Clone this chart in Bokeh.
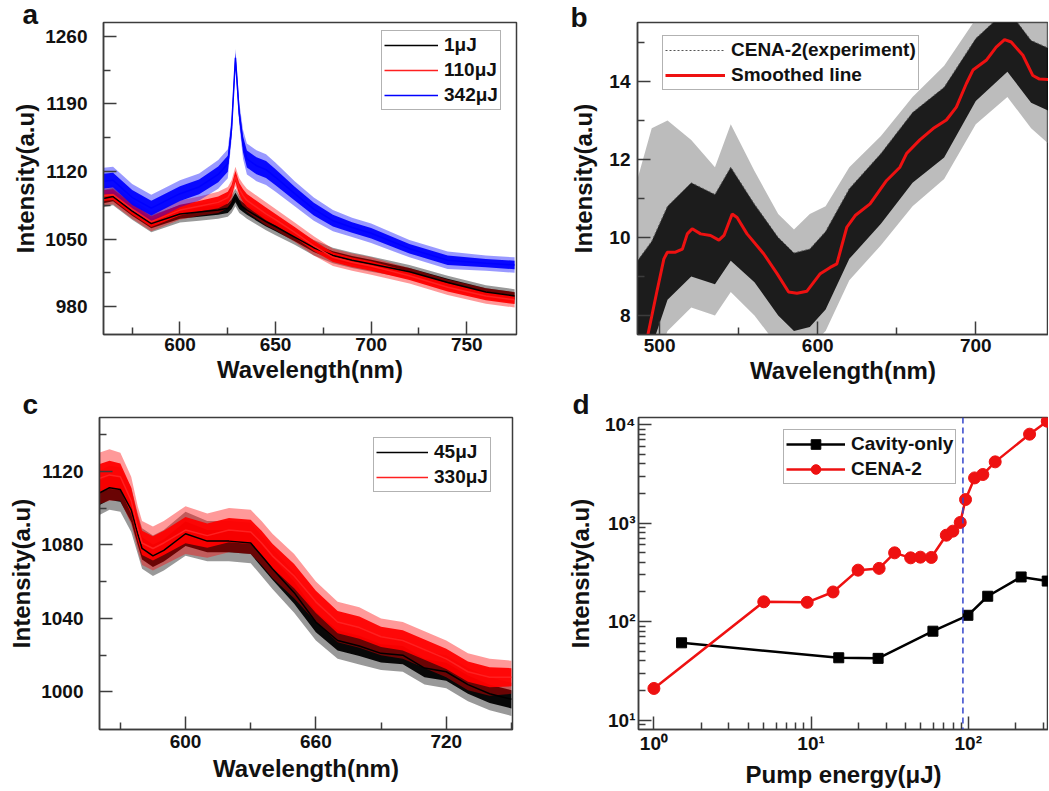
import numpy as np
from bokeh.plotting import figure
from bokeh.models import FixedTicker, Legend, LegendItem, Span
from bokeh.layouts import row, column
from bokeh.embed import file_html
from bokeh.resources import INLINE

# ---------------- data ----------------
# panel a
a_wl = [560, 565, 575, 585, 600, 610, 620, 625, 627, 629, 631, 633, 635, 640, 645,
        650, 660, 670, 680, 690, 700, 720, 740, 760, 775]
a_1uJ = [1092, 1094, 1079, 1066, 1076, 1078, 1080, 1082, 1086, 1093, 1086, 1083, 1080,
         1074, 1068, 1063, 1052, 1041, 1033, 1028, 1024, 1016, 1005, 995, 991]
a_1uJ_noise = [9, 9, 9, 9, 9, 9, 9, 9, 9, 9, 9, 9, 9, 9, 9, 9, 8, 8, 8, 8, 8, 7, 7, 7, 7]
a_110uJ = [1095, 1096, 1081, 1068, 1080, 1084, 1088, 1093, 1100, 1115, 1102, 1095, 1090,
           1083, 1076, 1070, 1057, 1043, 1031, 1026, 1022, 1012, 1000, 991, 987]
a_110uJ_noise = [10, 10, 10, 10, 10, 10, 11, 11, 11, 10, 11, 12, 12, 12, 12, 11, 10, 10,
                 9, 9, 9, 8, 8, 8, 8]
a_342uJ = [1110, 1111, 1093, 1082, 1097, 1104, 1117, 1128, 1165, 1238, 1180, 1148, 1133,
           1126, 1122, 1114, 1097, 1081, 1069, 1062, 1056, 1040, 1028, 1025, 1023]
a_342uJ_noise = [14, 14, 14, 14, 14, 14, 15, 15, 12, 9, 12, 15, 16, 16, 16, 15, 13, 12,
                 11, 10, 10, 9, 9, 8, 8]

# panel b
b_wl_smooth = [490, 492.6, 498, 502.7, 504.9, 510, 514.4, 517.5, 520.6, 525.9, 532.2, 537.5,
               540.7, 545.9, 549, 555.3, 565.8, 574.3, 581.6, 586.9, 593.2, 601.6, 607.9,
               612.1, 618.4, 623.7, 633.1, 643.6, 652, 656.2, 664.6, 673, 681.4, 687.7,
               694, 698.2, 706.6, 712.9, 718.2, 722.4, 729.8, 736.1, 740.3, 746]
b_smooth = [6.9, 7.51, 8.56, 9.45, 9.62, 9.62, 9.7, 10.09, 10.22, 10.09, 10.05, 9.93,
            10.05, 10.6, 10.51, 10.09, 9.58, 9.07, 8.6, 8.57, 8.62, 9.07, 9.23, 9.32,
            10.26, 10.56, 10.86, 11.46, 11.8, 12.15, 12.5, 12.79, 13.01, 13.34, 13.94,
            14.29, 14.54, 14.88, 15.07, 15.01, 14.67, 14.15, 14.06, 14.05]
b_wl_exp = [486, 495, 505, 520, 535, 545, 560, 575, 585, 595, 605, 620, 640, 660, 680,
            700, 720, 735, 746]
b_exp_core_lo = [6.8, 7.2, 8.4, 9.0, 8.8, 9.4, 8.85, 8.0, 7.6, 7.7, 8.15, 9.45, 10.35,
                 11.4, 12.05, 13.5, 14.25, 13.45, 13.25]
b_exp_core_hi = [9.4, 9.9, 10.8, 11.4, 11.1, 11.8, 10.85, 10.0, 9.6, 9.7, 10.15, 11.25,
                 12.15, 13.2, 13.85, 15.1, 15.85, 15.05, 14.85]
b_exp_spike_lo = [6.0, 6.5, 7.6, 8.2, 8.0, 8.6, 8.0, 7.2, 7.0, 7.2, 7.6, 8.9, 9.8, 10.8,
                  11.5, 12.9, 13.6, 12.8, 12.4]
b_exp_spike_hi = [11.5, 12.8, 13.0, 12.5, 11.8, 12.9, 11.7, 10.6, 10.2, 10.6, 10.8, 11.8,
                  12.6, 13.6, 14.4, 15.6, 16.0, 16.0, 16.0]

# panel c
c_wl = [560, 565, 570, 575, 578, 580, 585, 590, 600, 610, 620, 630, 635, 640, 650, 660,
        670, 680, 690, 700, 710, 720, 730, 740, 750]
c_45uJ = [1108, 1111, 1110, 1099, 1086, 1078, 1074, 1077, 1086, 1082, 1082, 1081, 1074,
          1067, 1054, 1038, 1028, 1025, 1021, 1020, 1013, 1011, 1004, 999, 996]
c_45uJ_noise = [12, 12, 12, 12, 11, 11, 11, 11, 12, 11, 11, 11, 11, 11, 11, 10, 10, 10,
                9, 9, 9, 9, 9, 9, 9]
c_330uJ = [1116, 1118, 1117, 1104, 1089, 1081, 1078, 1081, 1088, 1085, 1088, 1087, 1081,
           1074, 1063, 1049, 1038, 1035, 1030, 1028, 1023, 1018, 1011, 1008, 1008]
c_330uJ_noise = [14, 14, 13, 13, 12, 12, 12, 12, 13, 12, 12, 12, 12, 12, 12, 11, 11, 11,
                 10, 10, 10, 10, 10, 10, 9]

# panel d
cavity_energy = [1.5, 15.0, 26.7, 59.6, 99.5, 133, 217, 318]
cavity_intensity = [61, 43, 42.4, 80, 116, 181, 284, 258]
cena_energy = [1.0, 5.0, 9.45, 13.8, 19.9, 27.1, 34.0, 43.0, 49.6, 58.2, 72.5, 79.8,
               88.9, 96.1, 109.7, 123.8, 148.4, 245.5, 318]
cena_intensity = [21, 159, 157, 200, 333, 347, 499, 444, 451, 448, 753, 828, 1014, 1733,
                  2871, 3109, 4178, 7977, 10800]
threshold_energy = 92.5

a_xticks, a_xminor = [600, 650, 700, 750], [575, 625, 675, 725]
a_yticks, a_yminor = [980, 1050, 1120, 1190, 1260], [1015, 1085, 1155, 1225]
b_xticks, b_xminor = [500, 600, 700], [550, 650]
b_yticks, b_yminor = [8, 10, 12, 14], [9, 11, 13, 15]
c_xticks, c_xminor = [600, 660, 720], [570, 630, 690, 750]
c_yticks, c_yminor = [1000, 1040, 1080, 1120], [1020, 1060, 1100, 1140]
d_xticks = [1, 10, 100]
d_xminor = [2, 3, 4, 5, 6, 7, 8, 9, 20, 30, 40, 50, 60, 70, 80, 90, 200, 300]
d_yticks = [10, 100, 1000, 10000]
d_yminor = [8, 9, 20, 30, 40, 50, 60, 70, 80, 90, 200, 300, 400, 500, 600, 700, 800, 900,
            2000, 3000, 4000, 5000, 6000, 7000, 8000, 9000]
d_xlabels = {1: "10\u2070", 10: "10\u00b9", 100: "10\u00b2"}
d_ylabels = {10: "10\u00b9", 100: "10\u00b2", 1000: "10\u00b3", 10000: "10\u2074"}

# ---------------- styling helpers ----------------
FONT = "Liberation Sans"
AX = "#3c3c3c"
TXT = "#111111"


def make_fig(xr, yr, fw, fh, bl, br, bt, bb, xtype="linear", ytype="linear"):
    p = figure(x_range=xr, y_range=yr, frame_width=fw, frame_height=fh,
               min_border_left=bl, min_border_right=br, min_border_top=bt,
               min_border_bottom=bb, x_axis_type=xtype, y_axis_type=ytype,
               output_backend="svg", toolbar_location=None)
    p.xgrid.visible = False
    p.ygrid.visible = False
    p.outline_line_color = AX
    p.outline_line_width = 1.5
    p.background_fill_color = "white"
    p.border_fill_color = "white"
    for ax in (p.xaxis[0], p.yaxis[0]):
        ax.axis_line_color = AX
        ax.axis_line_width = 1.5
        ax.major_tick_in = 13
        ax.major_tick_out = 0
        ax.minor_tick_in = 7
        ax.minor_tick_out = 0
        ax.major_tick_line_color = AX
        ax.major_tick_line_width = 1.5
        ax.minor_tick_line_color = AX
        ax.minor_tick_line_width = 1.5
        ax.major_label_text_font = FONT
        ax.major_label_text_font_style = "bold"
        ax.major_label_text_font_size = "19px"
        ax.major_label_text_color = TXT
        ax.axis_label_text_font = FONT
        ax.axis_label_text_font_style = "bold"
        ax.axis_label_text_font_size = "24px"
        ax.axis_label_text_color = TXT
    return p


def set_ticks(p, xt, xm, yt, ym):
    p.xaxis[0].ticker = FixedTicker(ticks=xt, minor_ticks=xm)
    p.yaxis[0].ticker = FixedTicker(ticks=yt, minor_ticks=ym)


def legend(p, items, loc, gw):
    lg = Legend(items=items, location=loc, margin=0, padding=2, spacing=1,
                label_height=24, glyph_height=24, glyph_width=gw, label_standoff=6,
                border_line_color="#666666", border_line_width=1.2,
                background_fill_color="white", background_fill_alpha=1.0,
                label_text_font=FONT, label_text_font_style="bold",
                label_text_font_size="19px", label_text_color=TXT)
    p.add_layout(lg)
    return lg


def letter(p, text, offset, standoff):
    p.title.text = text
    p.title.text_font = FONT
    p.title.text_font_style = "bold"
    p.title.text_font_size = "28px"
    p.title.text_color = TXT
    p.title.align = "left"
    p.title.offset = offset
    p.title.standoff = standoff


def band(p, x, c, amp, color):
    c = np.asarray(c, float)
    amp = np.asarray(amp, float)
    p.varea(x=x, y1=c - amp, y2=c + amp, fill_color=color, fill_alpha=0.4)
    p.varea(x=x, y1=c - 0.55 * amp, y2=c + 0.55 * amp, fill_color=color, fill_alpha=0.95)


# ---------------- panel a ----------------
pa = make_fig((560, 776), (951, 1274.5), 413, 312, 103, 44, 22, 55)
set_ticks(pa, a_xticks, a_xminor, a_yticks, a_yminor)
pa.xaxis[0].axis_label = "Wavelength(nm)"
pa.yaxis[0].axis_label = "Intensity(a.u)"
pa.yaxis[0].major_label_standoff = 16
pa.yaxis[0].axis_label_standoff = 3
pa.xaxis[0].major_label_standoff = 3
pa.xaxis[0].axis_label_standoff = 2
band(pa, a_wl, a_1uJ, a_1uJ_noise, "#000000")
band(pa, a_wl, a_110uJ, a_110uJ_noise, "#ff0000")
band(pa, a_wl, a_342uJ, a_342uJ_noise, "#0000ff")
ra1 = pa.line(a_wl, a_1uJ, line_color="#000000", line_width=1.5)
ra2 = pa.line(a_wl, a_110uJ, line_color="#ff2020", line_width=1.5)
ra3 = pa.line(a_wl, a_342uJ, line_color="#0000ff", line_width=1.5)
legend(pa, [LegendItem(label="1\u03bcJ", renderers=[ra1]),
            LegendItem(label="110\u03bcJ", renderers=[ra2]),
            LegendItem(label="342\u03bcJ", renderers=[ra3])], (278, 224), 54)
letter(pa, "a", -81, -14)

# ---------------- panel b ----------------
pb = make_fig((486, 746), (7.51, 15.51), 411, 312, 77, 0, 22, 55)
set_ticks(pb, b_xticks, b_xminor, b_yticks, b_yminor)
pb.xaxis[0].axis_label = "Wavelength(nm)"
pb.yaxis[0].axis_label = "Intensity(a.u)"
pb.yaxis[0].major_label_standoff = 7
pb.yaxis[0].axis_label_standoff = 9
pb.xaxis[0].major_label_standoff = 4
pb.xaxis[0].axis_label_standoff = 2
pb.varea(x=b_wl_exp, y1=b_exp_spike_lo, y2=b_exp_spike_hi, fill_color="#7a7a7a",
         fill_alpha=0.5)
pb.varea(x=b_wl_exp, y1=b_exp_core_lo, y2=b_exp_core_hi, fill_color="#000000",
         fill_alpha=0.85)
rb1 = pb.line(b_wl_exp, b_exp_core_hi, line_color="#555555", line_width=1,
              line_dash="2 2")
rb2 = pb.line(b_wl_smooth, b_smooth, line_color="#ee1111", line_width=3)
legend(pb, [LegendItem(label="CENA-2(experiment)", renderers=[rb1]),
            LegendItem(label="Smoothed line", renderers=[rb2])], (25, 244), 60)
letter(pb, "b", -67, -21)

# ---------------- panel c ----------------
pc = make_fig((560.4, 750.5), (979.6, 1149.2), 413, 312, 99, 40, 28, 60)
set_ticks(pc, c_xticks, c_xminor, c_yticks, c_yminor)
pc.xaxis[0].axis_label = "Wavelength(nm)"
pc.yaxis[0].axis_label = "Intensity(a.u)"
pc.yaxis[0].major_label_standoff = 16
pc.yaxis[0].axis_label_standoff = 3
pc.xaxis[0].major_label_standoff = 5
pc.xaxis[0].axis_label_standoff = 4
band(pc, c_wl, c_45uJ, c_45uJ_noise, "#000000")
band(pc, c_wl, c_330uJ, c_330uJ_noise, "#ff0000")
rc1 = pc.line(c_wl, c_45uJ, line_color="#000000", line_width=1.5)
rc2 = pc.line(c_wl, c_330uJ, line_color="#ff2020", line_width=1.5)
legend(pc, [LegendItem(label="45\u03bcJ", renderers=[rc1]),
            LegendItem(label="330\u03bcJ", renderers=[rc2])], (274, 237), 52)
letter(pc, "c", -77, -5)

# ---------------- panel d ----------------
pd_ = make_fig((0.798, 324), (8.05, 11776), 410, 312, 86, 0, 28, 60,
               xtype="log", ytype="log")
set_ticks(pd_, d_xticks, d_xminor, d_yticks, d_yminor)
pd_.xaxis[0].major_label_overrides = d_xlabels
pd_.yaxis[0].major_label_overrides = d_ylabels
pd_.xaxis[0].axis_label = "Pump energy(\u03bcJ)"
pd_.yaxis[0].axis_label = "Intensity(a.u)"
pd_.yaxis[0].major_label_standoff = 3
pd_.yaxis[0].axis_label_standoff = 8
pd_.xaxis[0].major_label_standoff = 3
pd_.xaxis[0].axis_label_standoff = 4
pd_.add_layout(Span(location=threshold_energy, dimension="height", line_color="#3344cc",
                    line_dash="6 4", line_width=1.5))
l1 = pd_.line(cavity_energy, cavity_intensity, line_color="black", line_width=2.5)
m1 = pd_.scatter(cavity_energy, cavity_intensity, marker="square", size=10,
                 fill_color="black", line_color="black")
l2 = pd_.line(cena_energy, cena_intensity, line_color="#ee1111", line_width=2.5)
m2 = pd_.scatter(cena_energy, cena_intensity, marker="circle", size=12,
                 fill_color="#ee1111", line_color="#ee1111")
legend(pd_, [LegendItem(label="Cavity-only", renderers=[l1, m1]),
             LegendItem(label="CENA-2", renderers=[l2, m2])], (145, 245), 59)
letter(pd_, "d", -66, -5)

layout = column(row(pa, pb), row(pc, pd_))
open("out.html", "w").write(file_html(layout, INLINE))
